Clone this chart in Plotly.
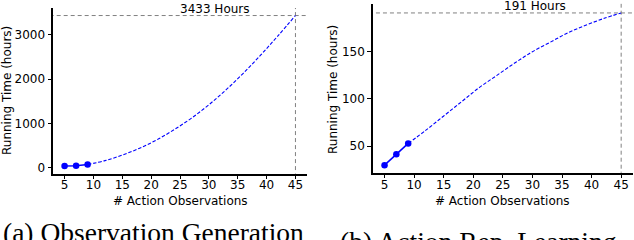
import plotly.graph_objects as go

# Data
obs_measured = [5, 7, 9]
gen_measured = [40, 45, 72]
rep_measured = [30, 41.5, 53]

obs_extrap = [9, 12, 15, 18, 21, 24, 27, 30, 33, 36, 39, 42, 45]
gen_extrap = [72, 160, 285, 440, 630, 860, 1120, 1420, 1760, 2135, 2545, 2980, 3433]
rep_extrap = [53, 67, 82, 97, 112, 125, 138, 150, 160, 170, 178, 185, 191]

gen_final = 3433
rep_final = 191
x_final = 45

x_ticks = [5, 10, 15, 20, 25, 30, 35, 40, 45]
gen_ticks = [0, 1000, 2000, 3000]
rep_ticks = [50, 100, 150]

W, H = 634, 240
BLUE = "#0000ff"
GRAY = "#808080"
FONT = "DejaVu Sans"

fig = go.Figure()

def px_x(p):
    return p / W

def px_y(p):
    return 1 - p / H

# axes domains
ax1_x = [px_x(53), px_x(307)]
ax1_y = [px_y(173.5), px_y(8)]
ax2_x = [px_x(372.7), px_x(633)]
ax2_y = [px_y(172.7), px_y(3.5)]

for xs, ys, xe, ye, final, xa, ya in [
    (obs_measured, gen_measured, obs_extrap, gen_extrap, gen_final, "x", "y"),
    (obs_measured, rep_measured, obs_extrap, rep_extrap, rep_final, "x2", "y2"),
]:
    # reference lines
    fig.add_trace(go.Scatter(x=[0, x_final + 10], y=[final, final], mode="lines",
                             line=dict(color=GRAY, width=1, dash="4px,3px"),
                             xaxis=xa, yaxis=ya, showlegend=False, hoverinfo="skip"))
    fig.add_trace(go.Scatter(x=[x_final, x_final], y=[-10000, final * 2], mode="lines",
                             line=dict(color=GRAY, width=1, dash="4px,3px"),
                             xaxis=xa, yaxis=ya, showlegend=False, hoverinfo="skip"))
    fig.add_trace(go.Scatter(x=xe, y=ye, mode="lines", line_shape="spline",
                             line=dict(color=BLUE, width=1.1, dash="3.5px,1.8px"),
                             xaxis=xa, yaxis=ya, showlegend=False))
    fig.add_trace(go.Scatter(x=xs, y=ys, mode="lines+markers",
                             line=dict(color=BLUE, width=1.5),
                             marker=dict(color=BLUE, size=6.5, symbol="circle"),
                             xaxis=xa, yaxis=ya, showlegend=False))

axis_common = dict(showgrid=False, zeroline=False, showline=True, linecolor="black",
                   linewidth=2, ticks="outside", ticklen=3.5, tickwidth=1.2, automargin=False,
                   tickcolor="black", tickfont=dict(family=FONT, size=12, color="black"))

fig.update_layout(
    width=W, height=H, margin=dict(l=0, r=0, t=0, b=0, autoexpand=False),
    paper_bgcolor="white", plot_bgcolor="white",
    xaxis=dict(domain=ax1_x, range=[3, 47], tickvals=x_ticks, anchor="y",
               ticklabelstandoff=-4, **axis_common),
    yaxis=dict(domain=ax1_y, range=[-130, 3603], tickvals=gen_ticks, anchor="x", **axis_common),
    xaxis2=dict(domain=ax2_x, range=[3, 47], tickvals=x_ticks, anchor="y2",
                ticklabelstandoff=-4, **axis_common),
    yaxis2=dict(domain=ax2_y, range=[22, 201], tickvals=rep_ticks, anchor="x2", **axis_common),
)

ann_font = dict(family=FONT, size=12, color="black")
cap_font = dict(family="Liberation Serif", size=27.5, color="black")

def pann(text, x, y, font, **kw):
    d = dict(text=text, x=px_x(x), y=px_y(y), xref="paper", yref="paper",
             xanchor="center", yanchor="middle", showarrow=False, font=font)
    d.update(kw)
    return d

annotations = [
    dict(text="3433 Hours", x=31.1, y=gen_final, xref="x", yref="y", xanchor="center",
         yanchor="bottom", showarrow=False, font=ann_font, yshift=-2),
    dict(text="191 Hours", x=30.4, y=rep_final, xref="x2", yref="y2", xanchor="center",
         yanchor="bottom", showarrow=False, font=ann_font, yshift=-2),
    pann("# Action Observations", 180, 201, ann_font),
    pann("# Action Observations", 503, 201, ann_font),
    pann("Running Time (hours)", 7, 91, ann_font, textangle=-90),
    pann("Running Time (hours)", 333, 89, ann_font, textangle=-90),
    pann("(a) Observation Generation", 153, 214.5, cap_font, yanchor="top"),
    pann("(b) Action Rep. Learning", 478, 223.5, cap_font, yanchor="top"),
]
fig.update_layout(annotations=annotations)

fig.write_html("out.html", config={"displayModeBar": False},
               post_script="document.body.style.margin='0';")
